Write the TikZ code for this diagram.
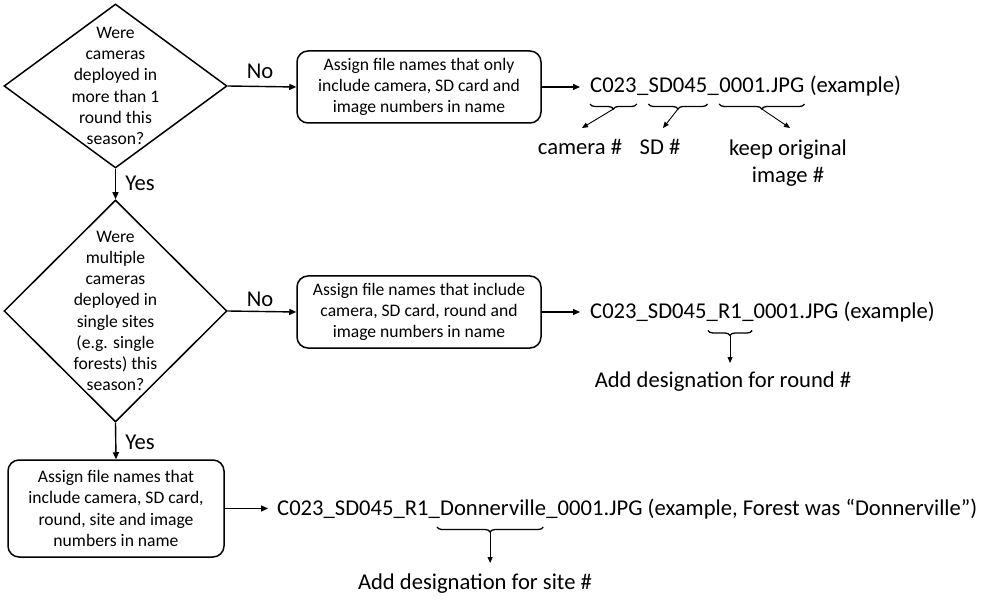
\documentclass[tikz,border=0pt]{standalone}
\usepackage{fontspec}
\setmainfont{Carlito}
\usetikzlibrary{shapes.geometric,decorations.pathreplacing,calc,arrows.meta}
\tikzset{
  smallfont/.style={font=\fontsize{17.6}{21.2}\selectfont},
  bigfont/.style={font=\fontsize{22.6}{27.5}\selectfont},
  dia/.style={diamond, draw, line width=1.5pt, inner sep=0pt},
  qtext/.style={smallfont, align=center, inner sep=0pt},
  box/.style={draw, line width=1.5pt, rounded corners=11pt, align=center, smallfont, inner sep=0pt},
  seg/.style={bigfont, inner sep=0pt, anchor=base west},
  lab/.style={bigfont, inner sep=0pt, anchor=base},
  arr/.style={line width=1.4pt, -{Triangle[length=7pt,width=6pt]}},
  thinarr/.style={line width=0.9pt, -{Triangle[length=6pt,width=5pt]}},
  brc/.style={line width=1.3pt, decorate, decoration={brace, mirror, amplitude=5pt}}
}
\begin{document}
\begin{tikzpicture}[x=1pt,y=-1pt]
\useasboundingbox (0,0) rectangle (984,601);
\fill[white] (0,0) rectangle (984,601);

% decision 1
\node[dia, minimum width=223pt, minimum height=164pt] (d1) at (115.5,86) {};
\node[qtext] (q1) at (d1.center) {Were\\cameras\\deployed in\\more than 1\\round this\\season?};
% box 1
\node[box, minimum width=244pt, minimum height=72pt] (bx1) at (419,87) {Assign file names that only\\include camera, SD card and\\image numbers in name};

% decision 2
\node[dia, minimum width=223pt, minimum height=222pt] (d2) at (115.5,311) {};
\node[qtext] (q2) at (d2.center) {Were\\multiple\\cameras\\deployed in\\single sites\\(e.g. single\\forests) this\\season?};
% box 2
\node[box, minimum width=244pt, minimum height=72pt] (bx2) at (419,312) {Assign file names that include\\camera, SD card, round and\\image numbers in name};

% box 3
\node[box, minimum width=216pt, minimum height=97pt] (bx3) at (116,508.5) {Assign file names that\\include camera, SD card,\\round, site and image\\numbers in name};

% connector labels
\node[bigfont] (no1) at (260,71) {No};
\node[bigfont] (yes1) at (140,183) {Yes};
\node[bigfont] (no2) at (260,299) {No};
\node[bigfont] (yes2) at (140,442) {Yes};

% main connectors
\draw[arr] (d1.east) -- (bx1.west);
\draw[arr] (d1.south) -- (d2.north);
\draw[arr] (d2.east) -- (bx2.west);
\draw[arr] (d2.south) -- (bx3.north);

% row 1
\node[seg] (a1) at (590,93) {C023};
\node[seg] (a2) at (a1.base east) {\_};
\node[seg] (a3) at (a2.base east) {SD045};
\node[seg] (a4) at (a3.base east) {\_};
\node[seg] (a5) at (a4.base east) {0001.JPG};
\node[seg] (a6) at (a5.base east) {\ (example)};
\draw[arr, shorten >=10pt] (bx1.east) -- (bx1.east -| a1.west);

\draw[brc] ([yshift=-11pt]a1.base west) -- ([yshift=-11pt]a1.base east);
\draw[brc] ([yshift=-11pt]a3.base west) -- ([yshift=-11pt]a3.base east);
\draw[brc] ([yshift=-11pt]a5.base west) -- ([yshift=-11pt]a5.base east);
\coordinate (t1) at ($(a1.base west)!.5!(a1.base east)+(0,-16pt)$);
\coordinate (t2) at ($(a3.base west)!.5!(a3.base east)+(0,-16pt)$);
\coordinate (t3) at ($(a5.base west)!.5!(a5.base east)+(0,-16pt)$);
\node[lab] (l1) at (580,155) {camera \#};
\node[lab] (l2) at (660,155) {SD \#};
\node[bigfont, align=center, inner sep=0pt] (l3) at (788,163) {keep original\\image \#};
\coordinate (e1) at (582,128);
\coordinate (e2) at (663,128);
\coordinate (e3) at (790,128);
\draw[thinarr] (t1) -- (e1);
\draw[thinarr] (t2) -- (e2);
\draw[thinarr] (t3) -- (e3);

% row 2
\node[seg] (b1) at (590,318.5) {C023\_SD045\_};
\node[seg] (b2) at (b1.base east) {R1};
\node[seg] (b3) at (b2.base east) {\_0001.JPG (example)};
\draw[arr, shorten >=10pt] (bx2.east) -- (bx2.east -| b1.west);
\draw[brc] ([xshift=-10pt,yshift=-12pt]b2.base west) -- ([xshift=10pt,yshift=-12pt]b2.base east);
\coordinate (t4) at ($(b2.base west)!.5!(b2.base east)+(0,-17pt)$);
\coordinate (e4) at (t4 |- 0,363);
\draw[thinarr] (t4) -- (e4);
\node[lab] (l4) at (723,387) {Add designation for round \#};

% row 3
\node[seg] (c1) at (277,515) {C023\_SD045\_R1\_};
\node[seg] (c2) at (c1.base east) {Donnerville};
\node[seg] (c3) at (c2.base east) {\_0001.JPG (example, Forest was “Donnerville”)};
\draw[arr, shorten >=9pt] (bx3.east) -- (bx3.east -| c1.west);
\draw[brc] ([xshift=-3pt,yshift=-12pt]c2.base west) -- ([xshift=-3pt,yshift=-12pt]c2.base east);
\coordinate (t5) at ($(c2.base west)!.5!(c2.base east)+(-3pt,-17pt)$);
\coordinate (e5) at (t5 |- 0,563);
\draw[thinarr] (t5) -- (e5);
\node[lab] (l5) at (475,589) {Add designation for site \#};
\end{tikzpicture}
\end{document}
